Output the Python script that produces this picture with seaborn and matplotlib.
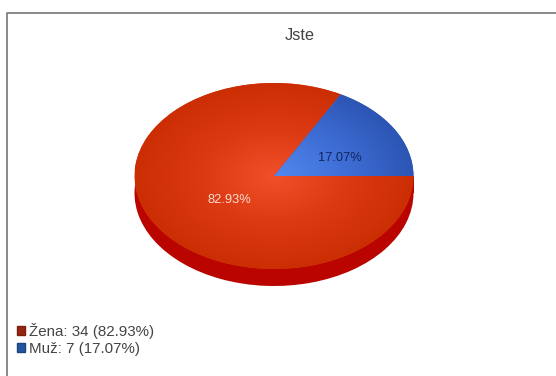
import numpy as np
import matplotlib
matplotlib.use("Agg")
import matplotlib.pyplot as plt
from matplotlib.colors import LinearSegmentedColormap
from matplotlib.lines import Line2D
from matplotlib.patches import Patch, Rectangle
import seaborn as sns

title = "Jste"
categories = ["Žena", "Muž"]
counts = [34, 7]
percent_text = ["82.93%", "17.07%"]

sns.set_theme(style="white")
plt.rcParams["font.family"] = ["Liberation Sans", "DejaVu Sans"]

W, H = 556, 376
CX, CY, RX, RY, DEPTH = 274, 176, 139.5, 93, 17
fig = plt.figure(figsize=(W / 100, H / 100), dpi=100, facecolor="white")
ax = fig.add_axes([0, 0, 1, 1])

start = 360 * counts[1] / sum(counts)
side_red = "#b90400"

# side of the disc
ax.add_patch(Rectangle((-1, -DEPTH / RY), 2, DEPTH / RY, facecolor=side_red,
                       edgecolor="none", linewidth=0, zorder=0))
ax.pie(counts, startangle=start, colors=[side_red, side_red], radius=1,
       center=(0, -DEPTH / RY), wedgeprops=dict(linewidth=0, zorder=0))

# top surface
wedges, _ = ax.pie(counts, startangle=start, colors=["#d93410", "#3a66c8"], radius=1,
                   wedgeprops=dict(linewidth=0, zorder=1))

g = np.linspace(-1, 1, 400)
rr = np.clip(np.hypot(*np.meshgrid(g, g)), 0, 1)
cmaps = [
    LinearSegmentedColormap.from_list("r", ["#f0502a", "#dc3a12", "#cc2e04"]),
    LinearSegmentedColormap.from_list("b", ["#5288ee", "#3f6fd6", "#2c55b4"]),
]
for w, cm in zip(wedges, cmaps):
    im = ax.imshow(rr, cmap=cm, vmin=0, vmax=1, extent=(-1, 1, -1, 1),
                   origin="lower", aspect="auto", zorder=2, interpolation="bilinear")
    im.set_clip_path(w)

ax.set_aspect("auto")
ax.set_xlim(-CX / RX, (W - CX) / RX)
ax.set_ylim((CY - H) / RY, CY / RY)
ax.axis("off")

def px(x, y):
    return (x - CX) / RX, (CY - y) / RY

ax.text(*px(300, 35), title, ha="center", va="center", fontsize=11.8, color="#444444", zorder=4)
ax.text(*px(229, 200), percent_text[0], ha="center", va="center", fontsize=9.3,
        color="#fbdcd0", zorder=4)
ax.text(*px(340, 158), percent_text[1], ha="center", va="center", fontsize=9.3,
        color="#12265e", zorder=4)

handles = [Patch(facecolor="#96260f", edgecolor="#7a2010"),
           Patch(facecolor="#23569e", edgecolor="#1c4580")]
labels = [f"{c}: {n} ({p})" for c, n, p in zip(categories, counts, percent_text)]
fig.legend(handles, labels, loc="lower left", bbox_to_anchor=(17 / W, (H - 356) / H),
           frameon=False, fontsize=10.9, handlelength=0.53, handleheight=0.53,
           handletextpad=0.28, labelspacing=0.2, borderpad=0, borderaxespad=0,
           labelcolor="#444444")

# outer frame (top and left only)
fig.add_artist(Line2D([6.5 / W, 6.5 / W, 1], [0, (H - 12.5) / H, (H - 12.5) / H],
                      color="#808080", lw=1.3, transform=fig.transFigure))

fig.savefig("out.png", dpi=100, facecolor="white")
